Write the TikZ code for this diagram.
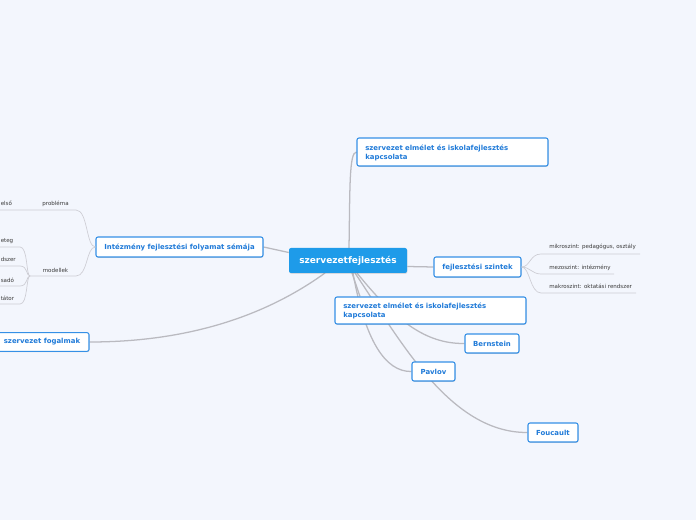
\documentclass[tikz,border=0pt]{standalone}
\usepackage{fontspec}
\setmainfont{DejaVu Sans}
\usetikzlibrary{calc, shadows}
\definecolor{bgblue}{HTML}{F3F6FD}
\definecolor{rootblue}{HTML}{1E9BE9}
\definecolor{nodeblue}{HTML}{1F7AD8}
\definecolor{edgeblue}{HTML}{3590E6}
\definecolor{linkgray}{HTML}{BABAC0}
\definecolor{leafgray}{HTML}{CDCDD4}
\definecolor{leaftext}{HTML}{3A3A3A}
\pgfdeclarelayer{paper}
\pgfdeclarelayer{links}
\pgfsetlayers{paper,links,main}

\begin{document}
\begin{tikzpicture}[x=0.75pt,y=-0.75pt,
  root/.style={fill=rootblue, text=white, rounded corners=1.5pt, inner sep=0pt,
    minimum width=88.5pt, minimum height=18.75pt,
    font=\bfseries\fontsize{6.75}{8}\selectfont,
    drop shadow={shadow xshift=0.3pt, shadow yshift=-0.6pt, opacity=0.25}},
  topic/.style={draw=edgeblue, line width=0.8pt, fill=white, text=nodeblue,
    rounded corners=1.5pt, inner sep=0pt,
    font=\bfseries\fontsize{5.2}{6.6}\selectfont,
    drop shadow={shadow xshift=0.3pt, shadow yshift=-0.6pt, opacity=0.3}},
  twoline/.style={text=nodeblue, inner sep=0pt, align=left, text width=#1,
    font=\bfseries\fontsize{5.2}{6.6}\selectfont},
  leaf/.style={text=leaftext, inner sep=0pt, font=\fontsize{4.15}{5}\selectfont},
  link/.style={draw=linkgray, line width=0.95pt},
  twig/.style={draw=leafgray, line width=0.5pt}]

\begin{pgfonlayer}{paper}
\fill[bgblue] (0,0) rectangle (696,520);
\end{pgfonlayer}
\useasboundingbox (0,0) rectangle (696,520);

\node[root] (root) at (348,260.5) {szervezetfejlesztés};

\node[topic, minimum width=143.25pt, minimum height=21pt] (elmelet1) at (452.5,152) {};
\node[twoline=135pt, anchor=north west] (elmelet1t) at (365,144.5) {szervezet elmélet és iskolafejlesztés\\kapcsolata};
\node[topic, minimum width=65.25pt, minimum height=15pt] (szintek) at (477.5,267) {fejlesztési szintek};
\node[topic, minimum width=143.25pt, minimum height=20.25pt] (elmelet2) at (430.5,310.5) {};
\node[twoline=135pt, anchor=north west] (elmelet2t) at (343,303) {szervezet elmélet és iskolafejlesztés\\kapcsolata};
\node[topic, minimum width=40.5pt, minimum height=14.25pt] (bernstein) at (492,343.5) {Bernstein};
\node[topic, minimum width=32.25pt, minimum height=14.25pt] (pavlov) at (433.5,371.5) {Pavlov};
\node[topic, minimum width=37.5pt, minimum height=14.25pt] (foucault) at (553,432.5) {Foucault};
\node[topic, minimum width=70.5pt, minimum height=14pt] (fogalmak) at (42,342) {szervezet fogalmak};
\node[topic, minimum width=125.25pt, minimum height=15pt] (sema) at (179.5,247) {Intézmény fejlesztési folyamat sémája};

% connectors from the centre
\begin{pgfonlayer}{links}
\coordinate (c1) at (349,248);
\coordinate (c2) at (325,273);
\coordinate (c3) at (352,273);
\coordinate (c4) at (353,273);
\coordinate (c5) at (357,273);
\coordinate (c6) at (355,273);
\draw[link] (c1) .. controls (350,190) and (349,152) .. (elmelet1.west);
\draw[link] ($(root.east)+(0,6)$) -- (szintek.west);
\draw[link] ($(root.west)+(0,-8)$) -- (sema.east);
\draw[link] (c2) .. controls (260,320) and (180,342) .. (fogalmak.east);
\draw[link] (c3) -- (elmelet2.north -| 360,0);
\draw[link] (c5) .. controls (395,320) and (425,344) .. (bernstein.west);
\draw[link] (c4) .. controls (365,340) and (385,372) .. (pavlov.west);
\draw[link] (c6) .. controls (400,340) and (450,433) .. (foucault.west);
\end{pgfonlayer}

% leaves of fejlesztési szintek
\node[leaf, anchor=base west] (mikro) at (549,249) {mikroszint: pedagógus, osztály};
\node[leaf, anchor=base west] (mezo) at (549,269.5) {mezoszint: intézmény};
\node[leaf, anchor=base west] (makro) at (549,289) {makroszint: oktatási rendszer};
\coordinate (mikroend) at (640,254);
\coordinate (mezoend) at (614,274);
\coordinate (makroend) at (636,293);
\draw[twig] (szintek.east) .. controls (530,267) and (530,254) .. (541,254) -- (mikroend);
\draw[twig] (szintek.east) .. controls (530,267) and (532,274) .. (541,274) -- (mezoend);
\draw[twig] (szintek.east) .. controls (530,267) and (530,293) .. (541,293) -- (makroend);

% leaves of the séma
\node[leaf, anchor=base] (problema) at (55.5,206) {probléma};
\node[leaf, anchor=base] (modellek) at (55.5,272.5) {modellek};
\node[leaf, anchor=base west] (elso) at (0.5,206) {első};
\node[leaf, anchor=base west] (eteg) at (0.5,243) {eteg};
\node[leaf, anchor=base west] (dszer) at (0.5,262) {dszer};
\node[leaf, anchor=base west] (sado) at (0.5,282) {sadó};
\node[leaf, anchor=base west] (tator) at (0.5,300.5) {tátor};
\coordinate (probend) at (0,210);
\coordinate (modjoin) at (30,276);
\draw[twig] (sema.west) .. controls (86,247) and (88,210) .. (76,210) -- (probend);
\draw[twig] (sema.west) .. controls (86,247) and (88,276) .. (76,276) -- (modjoin);
\foreach \y in {247,266,286,304}
  \draw[twig] (modjoin) .. controls (26,276) and (28,\y) .. (20,\y) -- (0,\y);

\end{tikzpicture}
\end{document}
